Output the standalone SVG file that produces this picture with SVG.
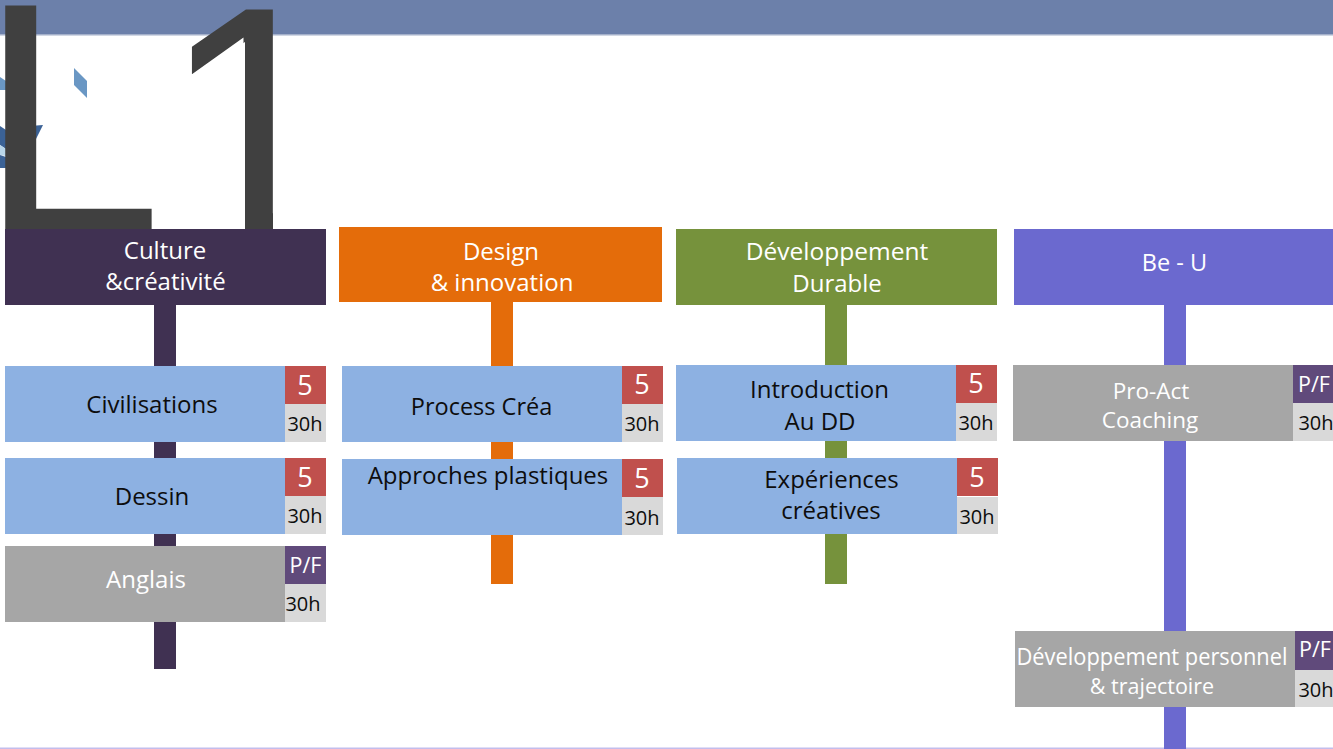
<svg xmlns="http://www.w3.org/2000/svg" width="1333" height="749" viewBox="0 0 1333 749">
<style>
text{font-family:"Open Sans","Noto Sans","Liberation Sans",sans-serif;text-anchor:middle;font-size:24px}
.w{fill:#fff}.k{fill:#0d0d0d}
.blue{fill:#8db1e2}.grey{fill:#a6a6a6}.red{fill:#c0504d}.pf{fill:#604a7b}.lg{fill:#d9d9d9}
.n{font-size:27px}.p{font-size:21.5px}.s{font-size:20px}.m{font-size:22.5px}.h{font-size:23.5px}
.big{font-family:"Liberation Sans",Arial,sans-serif;font-size:332px;fill:#404040;text-anchor:start}
</style>
<defs><clipPath id="noFoot"><polygon points="150,0 273,0 273,235 245,235 245,42 150,101"/></clipPath></defs>
<rect id="band" x="0" y="0" width="1333" height="34" fill="#6c80aa"/>
<rect x="0" y="34" width="1333" height="1.5" fill="#a4b0ca"/>
<rect x="0" y="747.5" width="1333" height="1.5" fill="#c3bdec"/>
<g id="decor">
<polygon points="74,68 87,81 87,98 74,85" fill="#6a97c4"/>
<polygon points="0,77 6,81 6,90 0,90" fill="#6a97c4"/>
<polygon points="0,126 6,130 30,126 43,125 35,141 6,149 0,145" fill="#3b6296"/>
<polygon points="0,145 6,149 6,156 0,155" fill="#b9d6ea"/>
<polygon points="0,155 6,157 6,168 0,168" fill="#3b6296"/>
</g>
<g id="title">
<text class="big" x="-22" y="234">L</text>
<text class="big" x="160" y="238" clip-path="url(#noFoot)">1</text>
</g>
<g id="connectors">
<rect x="154" y="300" width="22" height="369" fill="#403152"/>
<rect x="491" y="300" width="22" height="284" fill="#e46c0a"/>
<rect x="825" y="300" width="22" height="284" fill="#76923c"/>
<rect x="1164" y="300" width="22" height="449" fill="#6b69cf"/>
</g>
<g id="head-culture"><rect x="5" y="229" width="321" height="76" fill="#403152"/>
<text class="w" x="165" y="259">Culture</text><text class="w" x="165.500" y="290">&amp;créativité</text></g>
<g id="head-design"><rect x="339" y="227" width="323" height="75" fill="#e46c0a"/>
<text class="w" x="501" y="260">Design</text><text class="w" x="502" y="291">&amp; innovation</text></g>
<g id="head-dd"><rect x="676" y="229" width="321" height="76" fill="#76923c"/>
<text class="w" style="font-size:24.500px" x="837" y="260">Développement</text><text class="w" x="837" y="292">Durable</text></g>
<g id="head-beu"><rect x="1014" y="229" width="319" height="76" fill="#6b69cf"/>
<text class="w h" x="1174.500" y="271">Be - U</text></g>

<g id="civ"><rect class="blue" x="5" y="366" width="280" height="76"/><rect class="red" x="285" y="366" width="41" height="38"/><rect class="lg" x="285" y="404" width="41" height="38"/>
<text class="k" x="152" y="413">Civilisations</text><text class="w n" x="305" y="395">5</text><text class="k s" x="305" y="431">30h</text></g>
<g id="dessin"><rect class="blue" x="5" y="458" width="280" height="76"/><rect class="red" x="285" y="458" width="41" height="38"/><rect class="lg" x="285" y="496" width="41" height="38"/>
<text class="k" x="152" y="505">Dessin</text><text class="w n" x="305" y="487">5</text><text class="k s" x="305" y="523">30h</text></g>
<g id="anglais"><rect class="grey" x="5" y="546" width="280" height="76"/><rect class="pf" x="285" y="546" width="41" height="38"/><rect class="lg" x="285" y="584" width="41" height="38"/>
<text class="w" x="146" y="588">Anglais</text><text class="w p" x="305.500" y="573">P/F</text><text class="k s" x="303" y="611">30h</text></g>

<g id="process"><rect class="blue" x="342" y="366" width="280" height="76"/><rect class="red" x="622" y="366" width="41" height="38"/><rect class="lg" x="622" y="404" width="41" height="38"/>
<text class="k h" x="481.500" y="415">Process Créa</text><text class="w n" x="642" y="394">5</text><text class="k s" x="642" y="431">30h</text></g>
<g id="approches"><rect class="blue" x="342" y="459" width="280" height="76"/><rect class="red" x="622" y="459" width="41" height="38"/><rect class="lg" x="622" y="497" width="41" height="38"/>
<text class="k" x="488" y="484">Approches plastiques</text><text class="w n" x="642" y="488">5</text><text class="k s" x="642" y="525">30h</text></g>

<g id="intro"><rect class="blue" x="676" y="365" width="280" height="76"/><rect class="red" x="956" y="365" width="41" height="38"/><rect class="lg" x="956" y="403" width="41" height="38"/>
<text class="k" x="819.500" y="398">Introduction</text><text class="k" x="820" y="430">Au DD</text><text class="w n" x="976" y="393">5</text><text class="k s" x="976" y="430">30h</text></g>
<g id="exp"><rect class="blue" x="677" y="458" width="280" height="76"/><rect class="red" x="957" y="458" width="41" height="38"/><rect class="lg" x="957" y="497" width="41" height="37"/>
<text class="k" x="831.500" y="488">Expériences</text><text class="k" x="831" y="519">créatives</text><text class="w n" x="977" y="487">5</text><text class="k s" x="977" y="524">30h</text></g>

<g id="proact"><rect class="grey" x="1013" y="365" width="280" height="76"/><rect class="pf" x="1293" y="365" width="40" height="38"/><rect class="lg" x="1293" y="403" width="40" height="38"/>
<text class="w m" x="1151" y="399">Pro-Act</text><text class="w m" x="1150" y="428">Coaching</text><text class="w p" x="1314" y="392">P/F</text><text class="k s" x="1316" y="430">30h</text></g>
<g id="devperso"><rect class="grey" x="1015" y="631" width="280" height="76"/><rect class="pf" x="1295" y="631" width="38" height="39"/><rect class="lg" x="1295" y="670" width="38" height="37"/>
<text class="w" x="1152" y="665" textLength="271" lengthAdjust="spacingAndGlyphs">Développement personnel</text><text class="w" style="font-size:21.500px" x="1152" y="694">&amp; trajectoire</text><text class="w p" x="1315" y="657">P/F</text><text class="k s" x="1316" y="697">30h</text></g>
</svg>
